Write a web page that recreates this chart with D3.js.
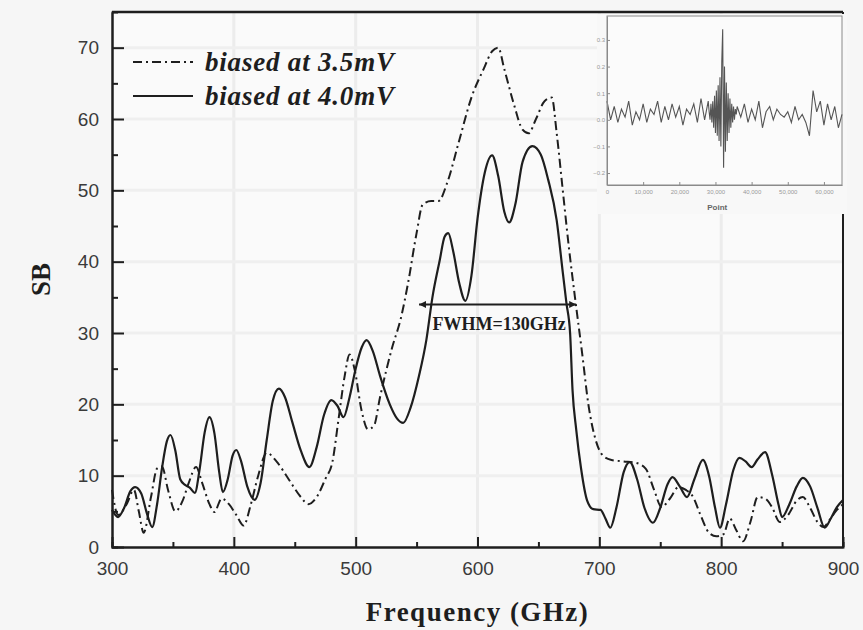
<!DOCTYPE html>
<html>
<head>
<meta charset="utf-8">
<script src="https://cdn.jsdelivr.net/npm/d3@7"></script>
<style>
  body { margin: 0; background: #f6f6f6; }
  svg { display: block; }
</style>
</head>
<body>
<svg id="chart" width="863" height="630"></svg>
<script>
// 3.5 mV curve (dash-dot)
var freq35 = [300,305,312,318,322,326,332,337,341,346,352,358,363,369,374,380,384,390,396,402,408,414,420,427,435,445,455,461,468,475,481,486,491,495,499,505,510,515,520,530,537,543,550,555,562,568,575,585,595,605,612,617,622,630,637,642,648,655,661,665,670,675,680,686,691,697,703,710,720,730,738,745,751,758,765,771,777,783,790,796,802,807,812,818,824,830,836,842,848,855,862,867,873,879,884,889,895,900];
var sb35 = [8,4.5,6,8,5,2,7,11,11.3,8,5,6.5,9,11.2,9,6,4.9,6.8,6,4.5,3,6,10,13.2,12,9.5,7,6,7,9.5,12,18,24,27,25,19,16.5,17,21,28,32,37,44,48,48.5,48.5,51,57,63,67,69.5,70,67,62,58.5,58,60,62.5,63,58,50,42,35,27,20,15,12.8,12.2,12,11.8,11,8,5.6,6.8,8.4,8,7,4.5,2,1.5,1.8,4,2.5,0.8,3.5,7,6.8,5.5,3.5,4.5,6.5,7,5.5,3.5,2.8,3.8,5.2,6];

// 4.0 mV curve (solid)
var freq40 = [300,305,310,315,319,324,329,333,337,341,345,348,352,356,360,364,368,372,376,380,384,388,391,395,399,402,406,411,417,422,427,432,437,442,448,455,462,468,474,480,485,490,495,500,505,509,514,520,528,534,539,545,552,558,563,569,573,576,580,585,590,595,600,606,612,617,622,626,631,637,645,652,658,665,670,673,676,678,681,685,690,695,701,705,709,714,720,725,731,737,744,750,756,760,766,772,778,785,790,795,799,804,810,815,820,825,830,836,842,847,850,856,862,867,873,879,885,890,895,900];
var sb40 = [5.2,4.2,5.5,7.8,8.4,7.5,4.5,2.8,6,11,14.8,15.7,13.5,9.5,8.7,8.3,7.6,11,16,18.2,16,10.5,7.7,9.5,12.8,13.6,12,8.5,6.6,9,15,20.5,22.2,21,17.5,13.5,11.2,14,18.5,20.6,19.8,18.2,21,25,28,29,27.5,24,20,18,17.4,19.5,24,29,35,40.2,43.5,44,41.5,37,34.5,38,46,52.5,54.9,52,47,45.5,48,54,56.2,55,51.5,45.8,38.5,34.2,30,22,16.5,11,6.5,5.3,5.2,4,2.7,5.5,10.5,11.9,9.5,5.5,3.4,5.5,8.8,9.8,8.5,7,9.5,12.2,10,5.5,2.7,6,10.8,12.5,12,11.2,12.3,13.3,10,6,4.2,6,8.5,9.7,8.5,5.5,2.7,4,5.6,6.6];

var xTicks = [300,400,500,600,700,800,900];
var xMinor = [350,450,550,650,750,850];
var yTicks = [0,10,20,30,40,50,60,70];
var yMinor = [5,15,25,35,45,55,65];

// inset interferogram
var insetPt = [0,1000,2000,3000,4000,5000,6000,7000,8000,9000,10000,11000,12000,13000,14000,15000,16000,17000,18000,19000,20000,21000,22000,23000,24000,25000,26000,27000,28000,
  28250,28500,28750,29000,29250,29500,29750,30000,30250,30500,30750,31000,31250,31500,31750,32000,32250,32500,32750,33000,33250,33500,33750,34000,34250,34500,34750,35000,35250,35500,35750,36000,
  37000,38000,39000,40000,41000,42000,43000,44000,45000,46000,47000,48000,49000,50000,51000,52000,53000,54000,55000,56000,57000,58000,59000,60000,61000,62000,63000,64000,65000];
var insetVal = [0.07,0.0,0.05,-0.01,0.04,0.01,0.07,-0.02,0.03,0.0,0.06,-0.01,0.04,0.02,0.07,-0.01,0.05,0.0,0.06,0.01,0.05,-0.02,0.04,0.02,0.06,-0.01,0.08,0.0,0.07,
  0.03,0.0,0.06,-0.01,0.07,-0.03,0.09,-0.05,0.11,-0.06,0.13,-0.08,0.16,-0.1,0.22,0.34,-0.18,0.2,-0.12,0.14,-0.08,0.1,-0.05,0.08,-0.03,0.06,-0.01,0.05,0.0,0.04,0.02,0.05,
  0.01,0.06,-0.01,0.04,0.0,0.07,-0.03,0.03,0.05,0.0,0.04,0.02,0.01,0.03,-0.01,0.05,0.0,0.02,-0.01,-0.06,0.11,0.03,0.07,-0.02,0.06,0.0,0.05,-0.03,0.02];
var insetXTicks = [0,10000,20000,30000,40000,50000,60000];
var insetYTicks = [-0.2,-0.1,0.0,0.1,0.2,0.3];

var svg = d3.select('#chart');
var mLeft = 112, mRight = 843, mTop = 12, mBottom = 547;
var ink = '#1e1e1e';

var x = d3.scaleLinear().domain([300, 900]).range([mLeft, mRight]);
var y = d3.scaleLinear().domain([0, 75]).range([mBottom, mTop]);

// plot background + faint grid
svg.append('rect').attr('x', mLeft).attr('y', mTop)
  .attr('width', mRight - mLeft).attr('height', mBottom - mTop).attr('fill', '#fafafa');
svg.append('g').selectAll('line').data(xTicks.slice(1, -1)).enter().append('line')
  .attr('x1', function(d){ return x(d); }).attr('x2', function(d){ return x(d); })
  .attr('y1', mTop).attr('y2', mBottom).attr('stroke', '#ececec').attr('stroke-width', 3);
svg.append('g').selectAll('line').data(yTicks.slice(1)).enter().append('line')
  .attr('y1', function(d){ return y(d); }).attr('y2', function(d){ return y(d); })
  .attr('x1', mLeft).attr('x2', mRight).attr('stroke', '#efefef').attr('stroke-width', 3);

// curves
var curveLine = d3.line().x(function(d){ return x(d[0]); }).y(function(d){ return y(d[1]); }).curve(d3.curveMonotoneX);
svg.append('path').datum(d3.zip(freq35, sb35)).attr('d', curveLine)
  .attr('fill', 'none').attr('stroke', ink).attr('stroke-width', 2)
  .attr('stroke-dasharray', '9,4,2,4');
svg.append('path').datum(d3.zip(freq40, sb40)).attr('d', curveLine)
  .attr('fill', 'none').attr('stroke', ink).attr('stroke-width', 2.2);

// axes
var xAxis = svg.append('g').attr('transform', 'translate(0,' + mBottom + ')')
  .call(d3.axisBottom(x).tickValues(xTicks).tickSizeInner(-10).tickSizeOuter(0).tickPadding(15));
svg.append('g').attr('transform', 'translate(0,' + mBottom + ')')
  .call(d3.axisBottom(x).tickValues(xMinor).tickSize(-5).tickFormat(''));
var yAxis = svg.append('g').attr('transform', 'translate(' + mLeft + ',0)')
  .call(d3.axisLeft(y).tickValues(yTicks).tickSizeInner(-12).tickSizeOuter(0).tickPadding(13));
svg.append('g').attr('transform', 'translate(' + mLeft + ',0)')
  .call(d3.axisLeft(y).tickValues(yMinor).tickSize(-6).tickFormat(''));
svg.selectAll('.domain').attr('stroke', ink).attr('stroke-width', 2);
svg.selectAll('.tick line').attr('stroke', ink).attr('stroke-width', 2);
svg.selectAll('.tick text').attr('fill', '#3a3a3a')
  .style('font-family', '"Liberation Sans", Arial, sans-serif').style('font-size', '19px');
xAxis.selectAll('.tick text').attr('dy', '0.71em');

// frame top & right
svg.append('line').attr('x1', mRight).attr('x2', mRight).attr('y1', mTop).attr('y2', mBottom)
  .attr('stroke', ink).attr('stroke-width', 2);

// axis titles
svg.append('text').attr('x', x(600)).attr('y', 621).attr('text-anchor', 'middle')
  .style('font-family', '"Liberation Serif", "Times New Roman", serif').style('font-weight', 'bold')
  .style('font-size', '27px').style('letter-spacing', '1.5px').attr('fill', ink)
  .text('Frequency (GHz)');
svg.append('text').attr('transform', 'translate(50,' + y(37.5) + ') rotate(-90)').attr('text-anchor', 'middle')
  .style('font-family', '"Liberation Serif", "Times New Roman", serif').style('font-weight', 'bold')
  .style('font-size', '27px').attr('fill', ink).text('SB');

// legend
var legend = [
  { label: 'biased at 3.5mV', dash: '9,4,2,4', yy: 62 },
  { label: 'biased at 4.0mV', dash: null, yy: 96 }
];
legend.forEach(function(l){
  svg.append('line').attr('x1', 133).attr('x2', 193).attr('y1', l.yy).attr('y2', l.yy)
    .attr('stroke', ink).attr('stroke-width', 2.2).attr('stroke-dasharray', l.dash);
  svg.append('text').attr('x', 205).attr('y', l.yy + 9)
    .style('font-family', '"Liberation Serif", "Times New Roman", serif')
    .style('font-weight', 'bold').style('font-style', 'italic')
    .style('font-size', '27px').style('letter-spacing', '0.8px').attr('fill', ink).text(l.label);
});

// FWHM arrow
var defs = svg.append('defs');
defs.append('marker').attr('id', 'ah').attr('viewBox', '0 0 10 10').attr('refX', 10).attr('refY', 5)
  .attr('markerWidth', 9).attr('markerHeight', 7).attr('markerUnits', 'userSpaceOnUse')
  .attr('orient', 'auto-start-reverse')
  .append('path').attr('d', 'M0,0 L10,5 L0,10 z').attr('fill', ink);
svg.append('line').attr('x1', x(552)).attr('x2', x(681)).attr('y1', y(34)).attr('y2', y(34))
  .attr('stroke', ink).attr('stroke-width', 2)
  .attr('marker-start', 'url(#ah)').attr('marker-end', 'url(#ah)');
svg.append('text').attr('x', x(563)).attr('y', y(30.4))
  .style('font-family', '"Liberation Serif", "Times New Roman", serif').style('font-weight', 'bold')
  .style('font-size', '18px').attr('fill', ink).text('FWHM=130GHz');

// inset
var ix = d3.scaleLinear().domain([0, 65000]).range([607, 842]);
var iy = d3.scaleLinear().domain([-0.245, 0.39]).range([185, 16]);
svg.append('rect').attr('x', 597).attr('y', 14).attr('width', 250).attr('height', 200).attr('fill', '#f8f8f8');
svg.append('line').attr('x1', mLeft).attr('x2', mRight).attr('y1', mTop).attr('y2', mTop)
  .attr('stroke', ink).attr('stroke-width', 2.5);
svg.append('rect').attr('x', 607).attr('y', 16).attr('width', 235).attr('height', 169)
  .attr('fill', '#fbfbfb').attr('stroke', '#8a8a8a').attr('stroke-width', 1);
var iline = d3.line().x(function(d){ return ix(d[0]); }).y(function(d){ return iy(d[1]); });
svg.append('path').datum(d3.zip(insetPt, insetVal)).attr('d', iline)
  .attr('fill', 'none').attr('stroke', '#555').attr('stroke-width', 1.1);
var ixAxis = svg.append('g').attr('transform', 'translate(0,185)')
  .call(d3.axisBottom(ix).tickValues(insetXTicks).tickSizeInner(-3).tickSizeOuter(0).tickPadding(5));
var iyAxis = svg.append('g').attr('transform', 'translate(607,0)')
  .call(d3.axisLeft(iy).tickValues(insetYTicks).tickSizeInner(-3).tickSizeOuter(0).tickPadding(2)
    .tickFormat(d3.format('.1f')));
[ixAxis, iyAxis].forEach(function(a){
  a.select('.domain').attr('stroke', '#8a8a8a').attr('stroke-width', 1);
  a.selectAll('.tick line').attr('stroke', '#8a8a8a').attr('stroke-width', 1);
  a.selectAll('.tick text').attr('fill', '#999')
    .style('font-family', '"Liberation Sans", Arial, sans-serif').style('font-size', '6px');
});
svg.append('text').attr('x', ix(30500)).attr('y', 210).attr('text-anchor', 'middle')
  .style('font-family', '"Liberation Sans", Arial, sans-serif').style('font-weight', 'bold')
  .style('font-size', '8px').attr('fill', '#666').text('Point');
</script>
</body>
</html>
